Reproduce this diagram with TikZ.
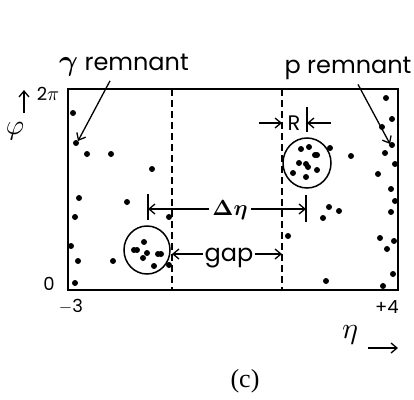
\documentclass[tikz,border=0pt]{standalone}
\usepackage{fontspec}
\usepackage{graphicx}
\setmainfont{Poppins}
\newfontfamily\seriffont{Liberation Serif}
\usetikzlibrary{arrows.meta}
\newcommand{\bigmath}[2]{\scalebox{#1}{\normalsize\boldmath$#2$}}
\newcommand{\thinmath}[2]{\scalebox{#1}{\normalsize$#2$}}
\begin{document}
\begin{tikzpicture}[x=1pt,y=-1pt,
  arr/.style={line width=1.3pt,-{Straight Barb[length=6pt,width=10pt,line width=1.3pt]}},
  lbl/.style={font=\fontsize{24}{24}\selectfont,inner sep=1pt,anchor=base},
  num/.style={font=\fontsize{18}{18}\selectfont,inner sep=1pt,anchor=base},
  tick/.style={line width=1.3pt},
  dashline/.style={line width=1.6pt,dash pattern=on 7pt off 4pt},
  ]
\useasboundingbox (0,0) rectangle (414,399);
% frame
\draw[line width=2pt] (68,89) rectangle (398,290);
\draw[dashline] (172,89) -- (172,290);
\draw[dashline] (282,89) -- (282,290);
% circles
\draw[line width=1.5pt] (147,250) ellipse [x radius=23, y radius=24];
\draw[line width=1.5pt] (307,163) ellipse [x radius=24, y radius=25];
% dots
\foreach \x/\y in {73/113,76/143,87/154,111/154,152/169,79/198,75/217,127/202,169/217,71/246,78/261,113/261,75/283,
  144/242,134/250,137/250,147/253,143/258,158/254,161/254,154/266,169/265,
  386/98,392/119,382/127,392/145,385/153,395/164,378/174,351/156,330/148,
  301/149,309/147,315/155,317/155,299/163,306/164,308/167,317/170,293/173,306/177,
  391/189,395/201,391/212,329/207,339/211,323/218,288/236,380/238,394/241,387/249,393/274,383/286,326/281}
  \fill (\x,\y) circle (3);
% labels
\node[lbl] (gr) at (124,70) {\bigmath{2.9}{\gamma} remnant};
\node[lbl] (pr) at (348,73) {p remnant};
\coordinate (grt) at (78,141);
\coordinate (prt) at (390,144);
\draw[arr] ([xshift=-14pt,yshift=-4pt]gr.south) -- (grt);
\draw[arr] ([xshift=10pt,yshift=-4pt]pr.south) -- (prt);
% R
\node[lbl,font=\fontsize{21}{21}\selectfont] (R) at (294,130) {R};
\coordinate (rl) at (282,123);
\coordinate (rr) at (307,123);
\coordinate (rls) at (259,123);
\coordinate (rrs) at (331,123);
\draw[arr] (rls) -- (rl);
\draw[arr] (rrs) -- (rr);
\draw[tick] (307,107) -- (307,132);
% Delta eta
\node[lbl,inner sep=3pt] (de) at (230,215) {\bigmath{2.2}{\Delta\eta}};
\coordinate (dl) at (148,209);
\coordinate (dr) at (306,209);
\draw[arr] (de.west |- dl) -- (dl);
\draw[arr] (de.east |- dr) -- (dr);
\draw[tick] (148,194) -- (148,220);
\draw[tick] (306,195) -- (306,222);
% gap
\node[lbl] (gap) at (229,261) {gap};
\coordinate (gl) at (172,254);
\coordinate (gr2) at (282,254);
\draw[arr] (gap.west |- gl) -- (gl);
\draw[arr] (gap.east |- gr2) -- (gr2);
% axes labels
\node[num] (twopi) at (48,100) {2\thinmath{2.0}{\pi}};
\coordinate (phia) at (24,90);
\coordinate (phib) at (24,113);
\draw[arr] (phib) -- (phia);
\node[inner sep=0pt] (phi) at (15,131) {\thinmath{2.8}{\varphi}};
\node[num] (zero) at (49,290) {0};
\node[num] (m3) at (71,312) {$-$3};
\node[num] (p4) at (387,313) {+4};
\node[inner sep=0pt] (eta) at (350,335) {\thinmath{3.0}{\eta}};
\coordinate (ea) at (368,348);
\coordinate (eb) at (398,348);
\draw[arr] (ea) -- (eb);
\node[font=\seriffont\fontsize{26}{26}\selectfont,inner sep=0pt] (c) at (245,381) {(c)};
\end{tikzpicture}
\end{document}
